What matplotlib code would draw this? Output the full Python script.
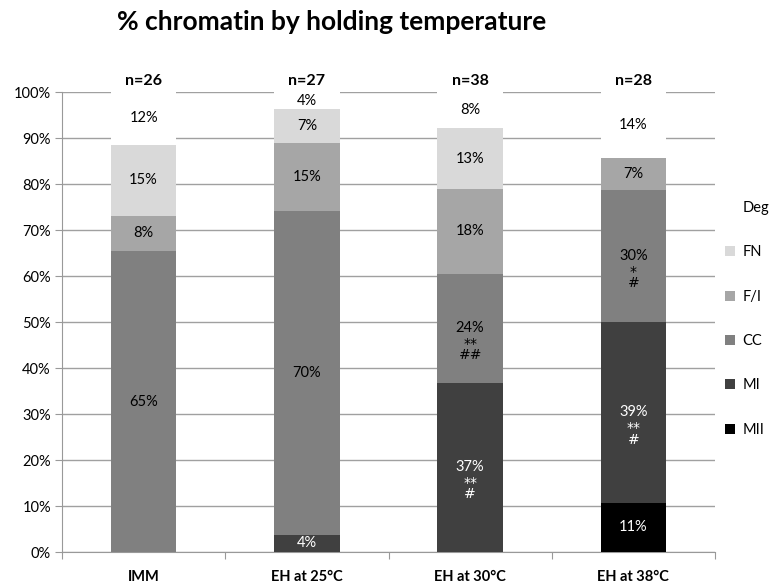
import numpy as np
import matplotlib.pyplot as plt

plt.rcParams['font.family'] = ['Lato', 'DejaVu Sans']

# categories and stacked segment values (%)
groups = ['IMM', 'EH at 25°C', 'EH at 30°C', 'EH at 38°C']
n_labels = ['n=26', 'n=27', 'n=38', 'n=28']
stages = ['MII', 'MI', 'CC', 'F/I', 'FN', 'Deg']
colors = ['#000000', '#404040', '#808080', '#a6a6a6', '#d9d9d9', '#ffffff']

mii = [0, 0, 0, 10.7]
mi = [0, 3.7, 36.8, 39.3]
cc = [65.4, 70.4, 23.7, 28.6]
fi = [7.7, 14.8, 18.4, 7.1]
fn = [15.4, 7.4, 13.2, 0]
deg = [11.5, 3.7, 7.9, 14.3]

# labels written inside each segment
mii_lab = ['', '', '', '11%']
mi_lab = ['', '4%', '37%', '39%']
cc_lab = ['65%', '70%', '24%', '30%']
fi_lab = ['8%', '15%', '18%', '7%']
fn_lab = ['15%', '7%', '13%', '']
deg_lab = ['12%', '4%', '8%', '14%']

mi_marks = ['', '', '**\n#', '**\n#']
cc_marks = ['', '', '**\n##', '*\n#']

series = [mii, mi, cc, fi, fn, deg]
labels = [mii_lab, mi_lab, cc_lab, fi_lab, fn_lab, deg_lab]
marks = [None, mi_marks, cc_marks, None, None, None]
txt_colors = ['white', 'white', 'black', 'black', 'black', 'black']

fig = plt.figure(figsize=(7.69, 5.88), dpi=100)
ax = fig.add_axes([62/769, 36/588, 653/769, 460/588])

x = np.arange(len(groups))
bottom = np.zeros(len(groups))
handles = []
for vals, col, labs, mk, tc, name in zip(series, colors, labels, marks, txt_colors, stages):
    vals = np.array(vals)
    h = ax.bar(x, vals, width=0.4, bottom=bottom, color=col, zorder=3, label=name)
    handles.append(h)
    for i in range(len(groups)):
        if labs[i]:
            yc = bottom[i] + vals[i] / 2
            ax.text(x[i], yc, labs[i], ha='center', va='center', fontsize=10.5, color=tc, zorder=4)
            if mk and mk[i]:
                ax.annotate(mk[i], (x[i], yc), xytext=(0, -6), textcoords='offset points',
                            ha='center', va='top', fontsize=10, color=tc, linespacing=0.8,
                            family='DejaVu Sans', zorder=4)
    bottom += vals

for i, t in enumerate(n_labels):
    ax.text(x[i], 100.8, t, ha='center', va='bottom', fontsize=11.5, fontweight='bold')

ax.set_xlim(-0.5, len(groups) - 0.5)
ax.set_ylim(0, 100)
ax.set_yticks(np.arange(0, 101, 10))
ax.set_yticklabels([f'{v}%' for v in range(0, 101, 10)], fontsize=10.5)
ax.set_xticks(np.arange(-0.5, len(groups), 1))
ax.set_xticklabels([])
ax.set_xticks(x, minor=True)
ax.set_xticklabels(groups, minor=True, fontsize=10.5, fontweight='bold')
ax.tick_params(axis='x', which='minor', length=0, pad=13)
ax.tick_params(axis='x', which='major', length=5, color='#999999')
ax.tick_params(axis='y', length=5, color='#999999', pad=3)
ax.yaxis.grid(True, color='#a0a0a0', linewidth=1, zorder=0)
for s in ['top', 'right']:
    ax.spines[s].set_visible(False)
for s in ['left', 'bottom']:
    ax.spines[s].set_color('#999999')

fig.text(332/769, 1 - 22/588, '% chromatin by holding temperature', ha='center', va='center',
         fontsize=19, fontweight='bold')

fig.legend(handles[::-1], stages[::-1], loc='upper left', bbox_to_anchor=(712/769, 1 - 188/588),
           frameon=False, fontsize=10.5, handlelength=0.7, handleheight=0.7, handletextpad=0.5,
           labelspacing=2.08)

fig.savefig('out.png', dpi=100)
